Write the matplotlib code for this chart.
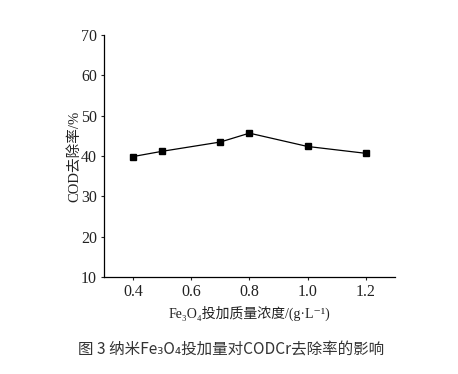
import matplotlib
matplotlib.use('Agg')
import matplotlib.pyplot as plt

dose = [0.4, 0.5, 0.7, 0.8, 1.0, 1.2]
cod_removal = [39.9, 41.2, 43.5, 45.7, 42.4, 40.7]
xticks = [0.4, 0.6, 0.8, 1.0, 1.2]
yticks = [10, 20, 30, 40, 50, 60, 70]

serif = ['Liberation Serif', 'DejaVu Serif', 'Noto Sans CJK SC']

fig = plt.figure(figsize=(4.58, 3.74), dpi=100)
ax = fig.add_axes([0.227, 0.259, 0.635, 0.647])
ax.plot(dose, cod_removal, color='black', marker='s', markersize=4.5, linewidth=0.9)

ax.set_xlim(0.3, 1.3)
ax.set_ylim(10, 70)
ax.set_xticks(xticks)
ax.set_xticklabels(['%.1f' % v for v in xticks])
ax.set_yticks(yticks)
for s in ['top', 'right']:
    ax.spines[s].set_visible(False)
for s in ['left', 'bottom']:
    ax.spines[s].set_linewidth(0.9)
ax.tick_params(direction='out', length=2.5, width=0.8, labelsize=11.5, colors='#222222', pad=2.5)
for lab in ax.get_xticklabels() + ax.get_yticklabels():
    lab.set_family(serif)

ax.set_ylabel('COD去除率/%', family=serif, fontsize=10.5, color='#222222', labelpad=0)
ax.set_xlabel('Fe₃O₄投加质量浓度/(g·L⁻¹)', family=serif, fontsize=10,
              color='#222222', labelpad=4)

fig.text(0.505, 0.064, '图 3 纳米Fe₃O₄投加量对CODCr去除率的影响',
         family=['Noto Sans CJK SC', 'DejaVu Sans'], fontsize=11.2, color='#333333',
         ha='center', va='center')

fig.savefig('out.png', dpi=100)
